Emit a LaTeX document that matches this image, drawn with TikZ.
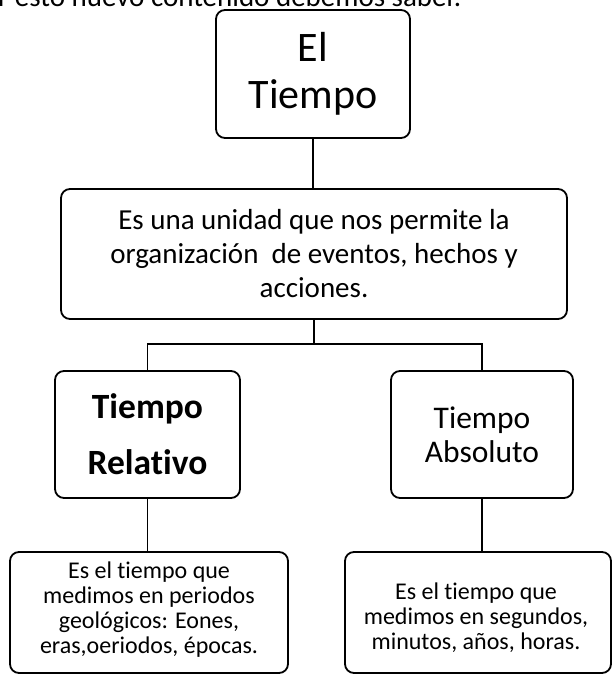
\documentclass[tikz,border=0pt]{standalone}
\usepackage{fontspec}
\setmainfont{Carlito}[Ligatures=NoCommon]
\begin{document}
\begin{tikzpicture}[x=1pt,y=-1pt]
\tikzset{
  box/.style={draw, line width=1.8pt, rounded corners=9pt, align=center, inner sep=0pt},
  txt/.style={align=center, inner sep=0pt},
  conn/.style={line width=1.8pt}
}
\useasboundingbox (0,0) rectangle (613,675);
\begin{scope}
\clip (0,0) rectangle (613,675);
\node[anchor=base west, inner sep=0pt, font=\fontsize{29}{34}\selectfont] (hdr) at (-2,6) {r esto nuevo contenido debemos saber.};
\end{scope}
\node[box, minimum width=194pt, minimum height=128pt, font=\fontsize{42}{47}\selectfont] (top) at (313,74) {El\\Tiempo};
\node[box, minimum width=506pt, minimum height=130pt, font=\fontsize{29}{34}\selectfont] (mid) at (314,254) {Es una unidad que nos permite la\\organización\ \ de eventos, hechos y\\acciones.};
\node[box, minimum width=185pt, minimum height=127pt, font=\fontsize{35.5}{56}\selectfont\bfseries] (l2l) at (147.5,434.5) {Tiempo\\Relativo};
\node[box, minimum width=182pt, minimum height=127pt, font=\fontsize{31.5}{34}\selectfont] (l2r) at (482,434.5) {Tiempo\\Absoluto};
\node[box, minimum width=278pt, minimum height=121pt] (b3l) at (149,612.5) {};
\node[txt, font=\fontsize{24}{25}\selectfont] (b3lt) at (149,609.5) {Es el tiempo que\\medimos en periodos\\geológicos: Eones,\\eras,oeriodos, épocas.};
\node[box, minimum width=266pt, minimum height=121pt] (b3r) at (478,612.5) {};
\node[txt, font=\fontsize{24}{25}\selectfont] (b3rt) at (476,618) {Es el tiempo que\\medimos en segundos,\\minutos, años, horas.};
\coordinate (br) at (314,344);
\draw[conn] (top.south) -- (top.south |- mid.north);
\draw[conn] (mid.south) -- (br);
\draw[conn] (l2l.north) |- (br) -| (l2r.north);
\draw[conn] (l2l.south) -- (l2l.south |- b3l.north);
\draw[conn] (l2r.south) -- (l2r.south |- b3r.north);
\end{tikzpicture}
\end{document}
